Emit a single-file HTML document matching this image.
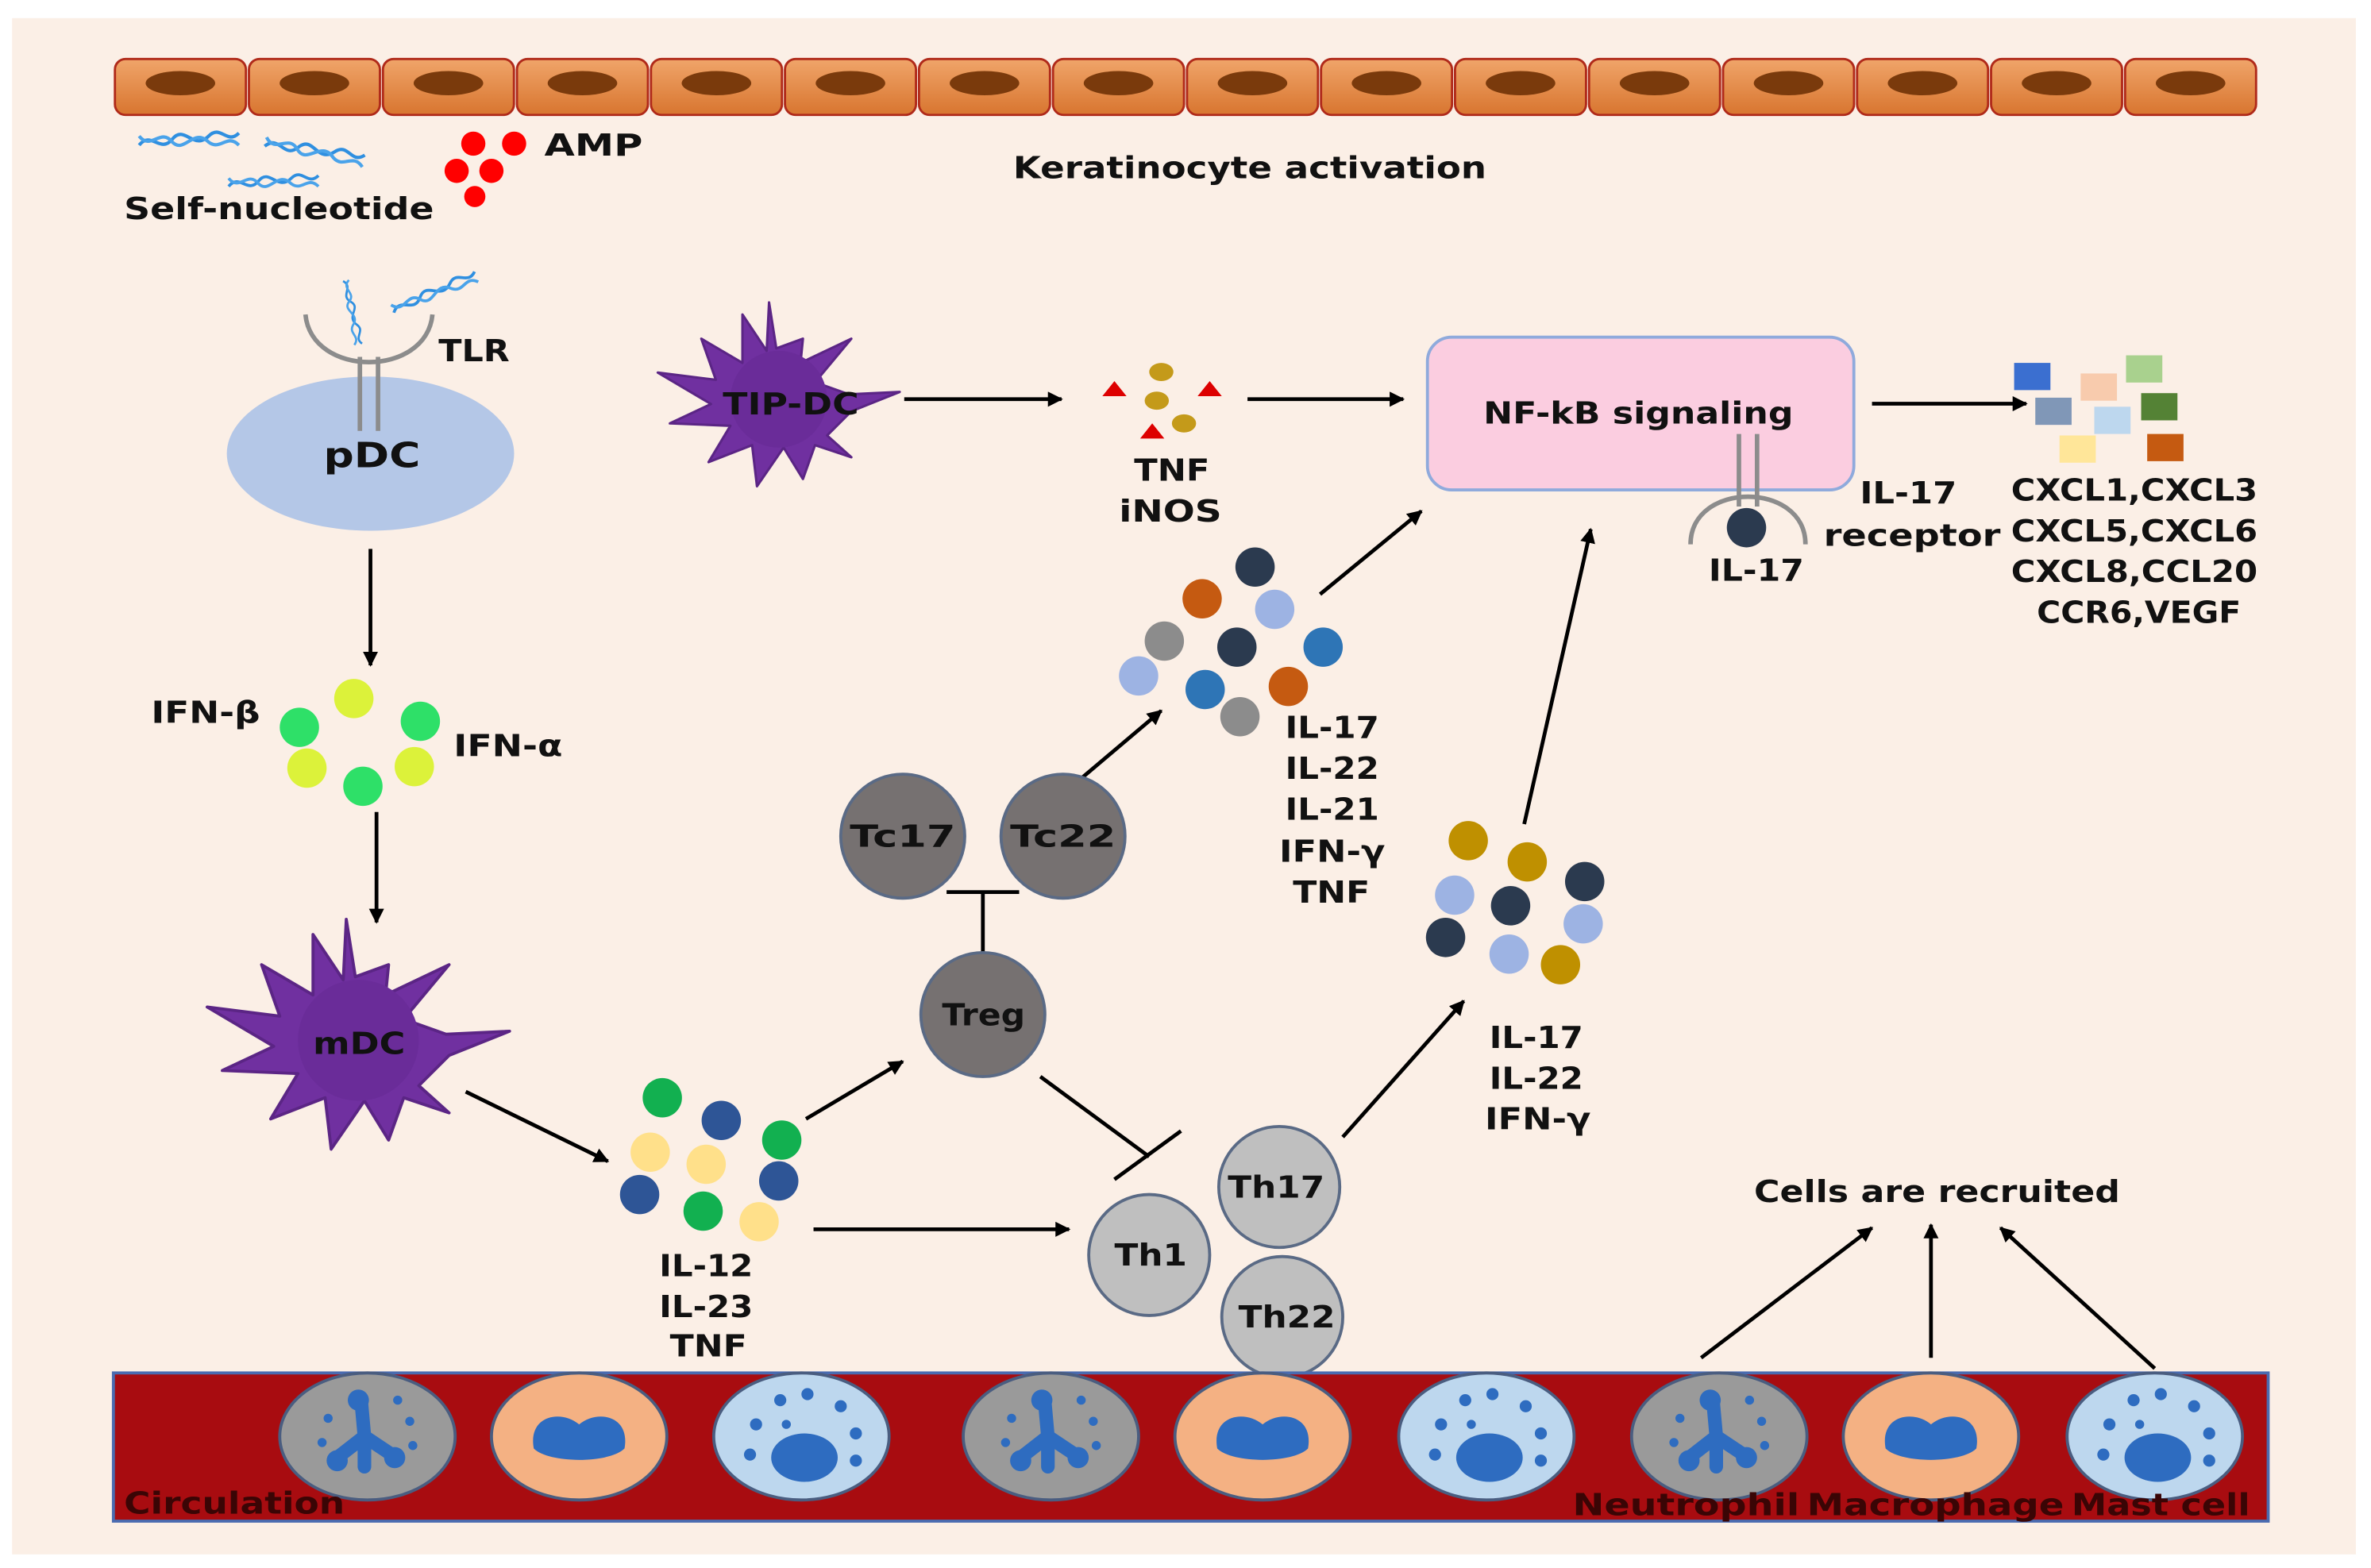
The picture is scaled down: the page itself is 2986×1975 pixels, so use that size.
<!DOCTYPE html>
<html><head><meta charset="utf-8">
<style>
html,body{margin:0;padding:0;background:#fff;}
svg{display:block;}
text{font-family:"DejaVu Sans","Liberation Sans",sans-serif;font-weight:bold;fill:#111;}
</style></head>
<body>
<svg id="s" width="2986" height="1975" viewBox="0 0 1568 1037" preserveAspectRatio="none" xmlns="http://www.w3.org/2000/svg">
<defs>
<linearGradient id="kg" x1="0" y1="0" x2="0" y2="1"><stop offset="0" stop-color="#f0a56a"/><stop offset="1" stop-color="#d8752f"/></linearGradient>
<marker id="ar" markerWidth="10" markerHeight="10" refX="9" refY="5" orient="auto" markerUnits="userSpaceOnUse"><path d="M0,0 L10,5 L0,10 z" fill="#000"/></marker>
<g id="dna"><path d="M0,8 C8,-2 14,14 22,4 C30,-6 36,12 46,2 C54,-6 58,8 66,0" stroke="#2f8fe0" stroke-width="2.2" fill="none"/><path d="M0,2 C8,12 14,-4 22,6 C30,14 36,-4 46,6 C54,12 58,0 66,8" stroke="#4aa3ea" stroke-width="2.2" fill="none"/></g>
<g id="neu"><ellipse cx="0" cy="0" rx="58" ry="42" fill="#9a9a9a" stroke="#4a5d80" stroke-width="2"/><path d="M-4,-22 L-2,0 L-20,14 M-2,0 L16,12 M-2,0 L-2,20" stroke="#2e6cc0" stroke-width="9" stroke-linecap="round" fill="none"/><circle cx="-6" cy="-24" r="7" fill="#2e6cc0"/><circle cx="-20" cy="16" r="7" fill="#2e6cc0"/><circle cx="18" cy="14" r="7" fill="#2e6cc0"/><circle cx="-26" cy="-12" r="3" fill="#2e6cc0"/><circle cx="28" cy="-10" r="3" fill="#2e6cc0"/><circle cx="30" cy="6" r="3" fill="#2e6cc0"/><circle cx="20" cy="-24" r="3" fill="#2e6cc0"/><circle cx="-30" cy="4" r="3" fill="#2e6cc0"/></g>
<g id="mac"><ellipse cx="0" cy="0" rx="58" ry="42" fill="#f4b183" stroke="#4a5d80" stroke-width="2"/><path d="M-30,8 C-34,-14 -12,-18 0,-8 C12,-18 34,-14 30,8 C20,18 -20,18 -30,8 z" fill="#2e6cc0"/></g>
<g id="mast"><ellipse cx="0" cy="0" rx="58" ry="42" fill="#bdd7ee" stroke="#4a5d80" stroke-width="2"/><ellipse cx="2" cy="14" rx="22" ry="16" fill="#2e6cc0"/><circle cx="-30" cy="-8" r="4" fill="#2e6cc0"/><circle cx="-14" cy="-24" r="4" fill="#2e6cc0"/><circle cx="4" cy="-28" r="4" fill="#2e6cc0"/><circle cx="26" cy="-20" r="4" fill="#2e6cc0"/><circle cx="36" cy="-2" r="4" fill="#2e6cc0"/><circle cx="36" cy="16" r="4" fill="#2e6cc0"/><circle cx="-34" cy="12" r="4" fill="#2e6cc0"/><circle cx="-10" cy="-8" r="3" fill="#2e6cc0"/></g>
<g id="dc"><path d="M-10,-40 L-8,-80 L-2,-42 L20,-50 L18,-30 L60,-50 L30,-14 L58,-4 L100,-6 L60,10 L40,30 L60,48 L30,38 L20,66 L4,40 L-18,72 L-22,38 L-58,52 L-40,22 L-90,20 L-56,4 L-100,-22 L-52,-16 L-64,-50 L-30,-30 L-30,-70 z" fill="#7030a0" stroke="#5b2585" stroke-width="2" stroke-linejoin="round"/><circle cx="0" cy="0" r="40" fill="#6a2c99"/></g>
</defs>
<rect x="0" y="0" width="1568" height="1037" fill="#fff"/>
<rect x="8" y="12" width="1550" height="1016" fill="#fbefe6"/>
<g id="ker"></g>
<use href="#dna" x="92" y="88"/><use href="#dna" x="175" y="95" transform="rotate(12 205 100)"/><use href="#dna" x="150" y="115" transform="scale(0.9) translate(18 14)"/>
<circle cx="313" cy="95" r="8" fill="#f00"/><circle cx="340" cy="95" r="8" fill="#f00"/><circle cx="302" cy="113" r="8" fill="#f00"/><circle cx="325" cy="113" r="8" fill="#f00"/><circle cx="314" cy="130" r="7" fill="#f00"/>
<text x="360" y="103" font-size="20" textLength="65" lengthAdjust="spacingAndGlyphs">AMP</text>
<text x="82" y="145" font-size="20" textLength="205" lengthAdjust="spacingAndGlyphs">Self-nucleotide</text>
<text x="670" y="118" font-size="20" textLength="313" lengthAdjust="spacingAndGlyphs">Keratinocyte activation</text>
<!-- pDC -->
<ellipse cx="245" cy="300" rx="95" ry="51" fill="#b4c7e7"/>
<path d="M202,208 C206,250 282,250 286,208" stroke="#8c8c8c" stroke-width="3" fill="none"/>
<line x1="238" y1="236" x2="238" y2="285" stroke="#8c8c8c" stroke-width="3"/><line x1="250" y1="236" x2="250" y2="285" stroke="#8c8c8c" stroke-width="3"/>
<use href="#dna" transform="translate(232 185) rotate(80) scale(0.65)"/><use href="#dna" transform="translate(258 200) rotate(-20) scale(0.9)"/>
<text x="290" y="239" font-size="20" textLength="47" lengthAdjust="spacingAndGlyphs">TLR</text>
<text x="214" y="309" font-size="23" textLength="64" lengthAdjust="spacingAndGlyphs">pDC</text>
<line x1="245" y1="363" x2="245" y2="440" stroke="#000" stroke-width="2.5" marker-end="url(#ar)"/>
<text x="100" y="478" font-size="20" textLength="72" lengthAdjust="spacingAndGlyphs">IFN-β</text><text x="300" y="500" font-size="20" textLength="72" lengthAdjust="spacingAndGlyphs">IFN-α</text>
<circle cx="234" cy="462" r="13" fill="#dcf23a"/><circle cx="198" cy="481" r="13" fill="#2ee068"/><circle cx="278" cy="477" r="13" fill="#2ee068"/><circle cx="203" cy="508" r="13" fill="#dcf23a"/><circle cx="274" cy="507" r="13" fill="#dcf23a"/><circle cx="240" cy="520" r="13" fill="#2ee068"/>
<line x1="249" y1="537" x2="249" y2="610" stroke="#000" stroke-width="2.5" marker-end="url(#ar)"/>
<use href="#dc" x="237" y="688"/>
<text x="207" y="697" font-size="20" textLength="61" lengthAdjust="spacingAndGlyphs">mDC</text>
<use href="#dc" transform="translate(515 264) scale(0.8)"/>
<text x="478" y="274" font-size="20" textLength="90" lengthAdjust="spacingAndGlyphs">TIP-DC</text>
<line x1="598" y1="264" x2="702" y2="264" stroke="#000" stroke-width="2.5" marker-end="url(#ar)"/>
<path d="M737,252 l8,10 h-16z M800,252 l8,10 h-16z M762,280 l8,10 h-16z" fill="#d00"/>
<ellipse cx="768" cy="246" rx="8" ry="6" fill="#c49a1a"/><ellipse cx="765" cy="265" rx="8" ry="6" fill="#c49a1a"/><ellipse cx="783" cy="280" rx="8" ry="6" fill="#c49a1a"/>
<text x="750" y="318" font-size="20" textLength="50" lengthAdjust="spacingAndGlyphs">TNF</text><text x="740" y="345" font-size="20" textLength="68" lengthAdjust="spacingAndGlyphs">iNOS</text>
<line x1="825" y1="264" x2="928" y2="264" stroke="#000" stroke-width="2.5" marker-end="url(#ar)"/>
<rect x="944" y="223" width="282" height="101" rx="16" fill="#fbcde0" stroke="#8faadc" stroke-width="2"/>
<text x="981" y="280" font-size="20" textLength="205" lengthAdjust="spacingAndGlyphs">NF-kB signaling</text>
<path d="M1118,360 C1118,318 1194,318 1194,360" stroke="#8c8c8c" stroke-width="3" fill="none"/>
<line x1="1150" y1="287" x2="1150" y2="335" stroke="#8c8c8c" stroke-width="3"/><line x1="1162" y1="287" x2="1162" y2="335" stroke="#8c8c8c" stroke-width="3"/>
<circle cx="1155" cy="349" r="13" fill="#2b3a4f"/>
<text x="1130" y="384" font-size="20" textLength="63" lengthAdjust="spacingAndGlyphs">IL-17</text>
<text x="1230" y="333" font-size="20" textLength="64" lengthAdjust="spacingAndGlyphs">IL-17</text><text x="1206" y="361" font-size="20" textLength="117" lengthAdjust="spacingAndGlyphs">receptor</text>
<line x1="1238" y1="267" x2="1340" y2="267" stroke="#000" stroke-width="2.5" marker-end="url(#ar)"/>
<rect x="1332" y="240" width="24" height="18" fill="#3b6fd0"/><rect x="1376" y="247" width="24" height="18" fill="#f8cbad"/><rect x="1406" y="235" width="24" height="18" fill="#a9d18e"/><rect x="1346" y="263" width="24" height="18" fill="#8097b7"/><rect x="1385" y="269" width="24" height="18" fill="#bdd7ee"/><rect x="1416" y="260" width="24" height="18" fill="#548235"/><rect x="1362" y="288" width="24" height="18" fill="#ffe699"/><rect x="1420" y="287" width="24" height="18" fill="#c55a11"/>
<text x="1330" y="331" font-size="20" textLength="163" lengthAdjust="spacingAndGlyphs">CXCL1,CXCL3</text><text x="1330" y="358" font-size="20" textLength="163" lengthAdjust="spacingAndGlyphs">CXCL5,CXCL6</text><text x="1330" y="385" font-size="20" textLength="163" lengthAdjust="spacingAndGlyphs">CXCL8,CCL20</text><text x="1347" y="412" font-size="20" textLength="135" lengthAdjust="spacingAndGlyphs">CCR6,VEGF</text>
<!-- cluster upper -->
<circle cx="830" cy="375" r="13" fill="#2b3a4f"/><circle cx="795" cy="396" r="13" fill="#c55a11"/><circle cx="843" cy="403" r="13" fill="#9db3e3"/><circle cx="770" cy="424" r="13" fill="#8c8c8c"/><circle cx="818" cy="428" r="13" fill="#2b3a4f"/><circle cx="875" cy="428" r="13" fill="#2e75b6"/><circle cx="753" cy="447" r="13" fill="#9db3e3"/><circle cx="797" cy="456" r="13" fill="#2e75b6"/><circle cx="852" cy="454" r="13" fill="#c55a11"/><circle cx="820" cy="474" r="13" fill="#8c8c8c"/>
<text x="850" y="488" font-size="20" textLength="62" lengthAdjust="spacingAndGlyphs">IL-17</text><text x="850" y="515" font-size="20" textLength="62" lengthAdjust="spacingAndGlyphs">IL-22</text><text x="850" y="542" font-size="20" textLength="62" lengthAdjust="spacingAndGlyphs">IL-21</text><text x="846" y="570" font-size="20" textLength="70" lengthAdjust="spacingAndGlyphs">IFN-γ</text><text x="855" y="597" font-size="20" textLength="51" lengthAdjust="spacingAndGlyphs">TNF</text>
<line x1="873" y1="393" x2="940" y2="338" stroke="#000" stroke-width="2.5" marker-end="url(#ar)"/>
<line x1="703" y1="525" x2="768" y2="470" stroke="#000" stroke-width="2.5" marker-end="url(#ar)"/>
<circle cx="597" cy="553" r="41" fill="#767171" stroke="#5a6a85" stroke-width="2"/><text x="562" y="560" font-size="20" textLength="70" lengthAdjust="spacingAndGlyphs">Tc17</text>
<circle cx="703" cy="553" r="41" fill="#767171" stroke="#5a6a85" stroke-width="2"/><text x="668" y="560" font-size="20" textLength="70" lengthAdjust="spacingAndGlyphs">Tc22</text>
<line x1="650" y1="590" x2="650" y2="635" stroke="#000" stroke-width="2.5"/><line x1="626" y1="590" x2="674" y2="590" stroke="#000" stroke-width="2.5"/>
<circle cx="650" cy="671" r="41" fill="#767171" stroke="#5a6a85" stroke-width="2"/><text x="623" y="678" font-size="20" textLength="55" lengthAdjust="spacingAndGlyphs">Treg</text>
<line x1="688" y1="712" x2="760" y2="765" stroke="#000" stroke-width="2.5"/><line x1="737" y1="780" x2="781" y2="748" stroke="#000" stroke-width="2.5"/>
<!-- cluster mDC -->
<circle cx="438" cy="726" r="13" fill="#12b050"/><circle cx="477" cy="741" r="13" fill="#2e5596"/><circle cx="517" cy="754" r="13" fill="#12b050"/><circle cx="430" cy="762" r="13" fill="#ffe08a"/><circle cx="467" cy="770" r="13" fill="#ffe08a"/><circle cx="515" cy="781" r="13" fill="#2e5596"/><circle cx="423" cy="790" r="13" fill="#2e5596"/><circle cx="465" cy="801" r="13" fill="#12b050"/><circle cx="502" cy="808" r="13" fill="#ffe08a"/>
<line x1="308" y1="722" x2="402" y2="768" stroke="#000" stroke-width="2.5" marker-end="url(#ar)"/>
<line x1="533" y1="740" x2="597" y2="702" stroke="#000" stroke-width="2.5" marker-end="url(#ar)"/>
<line x1="538" y1="813" x2="707" y2="813" stroke="#000" stroke-width="2.5" marker-end="url(#ar)"/>
<text x="436" y="844" font-size="20" textLength="62" lengthAdjust="spacingAndGlyphs">IL-12</text><text x="436" y="871" font-size="20" textLength="62" lengthAdjust="spacingAndGlyphs">IL-23</text><text x="443" y="897" font-size="20" textLength="51" lengthAdjust="spacingAndGlyphs">TNF</text>
<circle cx="846" cy="785" r="40" fill="#bfbfbf" stroke="#5a6a85" stroke-width="2"/><text x="812" y="792" font-size="20" textLength="64" lengthAdjust="spacingAndGlyphs">Th17</text>
<circle cx="760" cy="830" r="40" fill="#bfbfbf" stroke="#5a6a85" stroke-width="2"/><text x="737" y="837" font-size="20" textLength="48" lengthAdjust="spacingAndGlyphs">Th1</text>
<circle cx="848" cy="871" r="40" fill="#bfbfbf" stroke="#5a6a85" stroke-width="2"/><text x="819" y="878" font-size="20" textLength="64" lengthAdjust="spacingAndGlyphs">Th22</text>
<line x1="888" y1="752" x2="968" y2="662" stroke="#000" stroke-width="2.5" marker-end="url(#ar)"/>
<circle cx="971" cy="556" r="13" fill="#bf9000"/><circle cx="1010" cy="570" r="13" fill="#bf9000"/><circle cx="1048" cy="583" r="13" fill="#2b3a4f"/><circle cx="962" cy="592" r="13" fill="#9db3e3"/><circle cx="999" cy="599" r="13" fill="#2b3a4f"/><circle cx="1047" cy="611" r="13" fill="#9db3e3"/><circle cx="956" cy="620" r="13" fill="#2b3a4f"/><circle cx="998" cy="631" r="13" fill="#9db3e3"/><circle cx="1032" cy="638" r="13" fill="#bf9000"/>
<text x="985" y="693" font-size="20" textLength="62" lengthAdjust="spacingAndGlyphs">IL-17</text><text x="985" y="720" font-size="20" textLength="62" lengthAdjust="spacingAndGlyphs">IL-22</text><text x="982" y="747" font-size="20" textLength="70" lengthAdjust="spacingAndGlyphs">IFN-γ</text>
<line x1="1008" y1="545" x2="1052" y2="350" stroke="#000" stroke-width="2.5" marker-end="url(#ar)"/>
<text x="1160" y="795" font-size="20" textLength="242" lengthAdjust="spacingAndGlyphs">Cells are recruited</text>
<line x1="1125" y1="898" x2="1238" y2="812" stroke="#000" stroke-width="2.5" marker-end="url(#ar)"/>
<line x1="1277" y1="898" x2="1277" y2="810" stroke="#000" stroke-width="2.5" marker-end="url(#ar)"/>
<line x1="1425" y1="905" x2="1323" y2="812" stroke="#000" stroke-width="2.5" marker-end="url(#ar)"/>
<!-- circulation -->
<rect x="75" y="908" width="1425" height="98" fill="#a80c10" stroke="#4a6bb0" stroke-width="2"/>
<use href="#neu" x="243" y="950"/><use href="#mac" x="383" y="950"/><use href="#mast" x="530" y="950"/>
<use href="#neu" x="695" y="950"/><use href="#mac" x="835" y="950"/><use href="#mast" x="983" y="950"/>
<use href="#neu" x="1137" y="950"/><use href="#mac" x="1277" y="950"/><use href="#mast" x="1425" y="950"/>
<text x="82" y="1001" font-size="20" style="fill:#3a0505" textLength="146" lengthAdjust="spacingAndGlyphs">Circulation</text>
<text x="1040" y="1002" font-size="20" style="fill:#3a0505" textLength="150" lengthAdjust="spacingAndGlyphs">Neutrophil</text>
<text x="1195" y="1002" font-size="20" style="fill:#3a0505" textLength="170" lengthAdjust="spacingAndGlyphs">Macrophage</text>
<text x="1370" y="1002" font-size="20" style="fill:#3a0505" textLength="118" lengthAdjust="spacingAndGlyphs">Mast cell</text>
</svg>
<script>
var g=document.getElementById('ker'),w=1418/16,h='';
for(var i=0;i<16;i++){var x=75+i*w;h+='<rect x="'+(x+1)+'" y="39" width="'+(w-2)+'" height="37" rx="7" fill="url(#kg)" stroke="#b02a1a" stroke-width="1.5"/><ellipse cx="'+(x+w/2)+'" cy="55" rx="23" ry="8" fill="#7a3a0c"/>';}
g.innerHTML=h;
</script>
</body></html>
